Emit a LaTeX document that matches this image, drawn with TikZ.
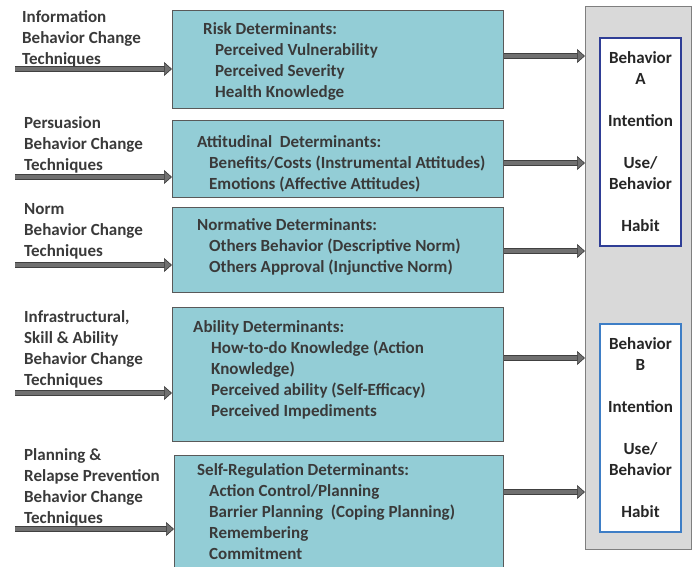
\documentclass[tikz,border=0pt]{standalone}
\usepackage{fontspec}
\setmainfont{Carlito}
\usepackage{tikz}
\usetikzlibrary{arrows.meta}
\usetikzlibrary{positioning}
\usetikzlibrary{calc}
\definecolor{detfill}{RGB}{147,205,214}
\definecolor{detline}{RGB}{89,89,89}
\definecolor{outerfill}{RGB}{217,217,217}
\definecolor{outerline}{RGB}{127,127,127}
\definecolor{blueA}{RGB}{47,62,150}
\definecolor{blueB}{RGB}{62,126,198}
\definecolor{arrowfill}{RGB}{112,112,112}
\definecolor{arrowline}{RGB}{64,64,64}
\definecolor{textgray}{RGB}{58,58,58}
\tikzstyle{determ}=[draw=detline, fill=detfill, line width=1pt,
  anchor=north west, inner sep=0pt]
\tikzstyle{lbl}=[anchor=north west, align=left, inner sep=0pt,
  text=textgray, font=\bfseries\fontsize{17}{21}\selectfont,
  execute at begin node=\strut]
\tikzstyle{outer}=[draw=outerline, fill=outerfill, line width=1pt,
  anchor=north west, inner sep=0pt]
\tikzstyle{behav}=[fill=white, line width=2pt, align=center, inner sep=0pt,
  anchor=north west, text=black!85, font=\bfseries\fontsize{17}{21}\selectfont]
\tikzstyle{fat}=[draw=arrowfill, line width=4.6pt,
  preaction={draw=arrowline, line width=6.4pt, -, shorten >=6pt},
  -{Triangle[length=8pt,width=14pt,fill=arrowfill,color=arrowline,line width=0.7pt]}]
\newcommand{\itm}{\hspace*{12pt}}

\begin{document}
\begin{tikzpicture}[x=1pt,y=-1pt]
    \useasboundingbox (0,0) rectangle (696,567);

    % Draw determinant boxes
    \node (risk) [determ, minimum width=331pt, minimum height=98pt] at (172,10) {};
    \node (att)  [determ, minimum width=331pt, minimum height=77pt] at (172,120) {};
    \node (norm) [determ, minimum width=331pt, minimum height=85pt] at (172,207) {};
    \node (abil) [determ, minimum width=331pt, minimum height=134pt] at (172,307) {};
    \node (self) [determ, minimum width=329pt, minimum height=125pt] at (174,455) {};

    % Draw texts inside the boxes
    \node (trisk) [lbl] at (203,22.3) {Risk Determinants:\\
      \itm Perceived Vulnerability\\ \itm Perceived Severity\\
      \itm Health Knowledge};
    \node (tatt) [lbl] at (197,135.3) {Attitudinal\ \ Determinants:\\
      \itm Benefits/Costs (Instrumental Attitudes)\\
      \itm Emotions (Affective Attitudes)};
    \node (tnorm) [lbl] at (197,218.3) {Normative Determinants:\\
      \itm Others Behavior (Descriptive Norm)\\
      \itm Others Approval (Injunctive Norm)};
    \node (tabil) [lbl] at (193,320.3) {Ability Determinants:\\
      \hspace*{18pt}How-to-do Knowledge (Action\\
      \hspace*{18pt}Knowledge)\\
      \hspace*{18pt}Perceived ability (Self-Efficacy)\\
      \hspace*{18pt}Perceived Impediments};
    \node (tself) [lbl] at (197,463.3) {Self-Regulation Determinants:\\
      \itm Action Control/Planning\\
      \itm Barrier Planning\ \ (Coping Planning)\\
      \itm Remembering\\ \itm Commitment};

    % Draw technique labels
    \node (tech1) [lbl] at (22,10.3) {Information\\ Behavior Change\\ Techniques};
    \node (tech2) [lbl] at (24,116.3) {Persuasion\\ Behavior Change\\ Techniques};
    \node (tech3) [lbl] at (24,203.3) {Norm\\ Behavior Change\\ Techniques};
    \node (tech4) [lbl] at (24,310.3) {Infrastructural,\\ Skill \& Ability\\
      Behavior Change\\ Techniques};
    \node (tech5) [lbl] at (24,448.3) {Planning \&\\ Relapse Prevention\\
      Behavior Change\\ Techniques};

    % Draw behavior column
    \node (outer) [outer, minimum width=106pt, minimum height=543pt] at (585,6) {};
    \node (behA) [behav, draw=blueA, minimum width=81pt, minimum height=208pt]
      at (599,37) {Behavior\\ A\\[21pt] Intention\\[21pt] Use/\\ Behavior\\[21pt] Habit};
    \node (behB) [behav, draw=blueB, minimum width=81pt, minimum height=208pt]
      at (599,323) {Behavior\\ B\\[21pt] Intention\\[21pt] Use/\\ Behavior\\[21pt] Habit};

    % Draw arrows between elements
    \coordinate (l1) at (15,69);
    \coordinate (l2) at (15,177);
    \coordinate (l3) at (15,265);
    \coordinate (l4) at (15,393);
    \coordinate (l5) at (15,529);
    \draw [fat] (l1) -- (l1 -| risk.west);
    \draw [fat] (l2) -- (l2 -| att.west);
    \draw [fat] (l3) -- (l3 -| norm.west);
    \draw [fat] (l4) -- (l4 -| abil.west);
    \draw [fat] (l5) -- (l5 -| self.west);
    \coordinate (r1) at (0,56);
    \coordinate (r2) at (0,163);
    \coordinate (r3) at (0,251);
    \coordinate (r4) at (0,358);
    \coordinate (r5) at (0,492);
    \draw [fat] (risk.east |- r1) -- (outer.west |- r1);
    \draw [fat] (att.east |- r2) -- (outer.west |- r2);
    \draw [fat] (norm.east |- r3) -- (outer.west |- r3);
    \draw [fat] (abil.east |- r4) -- (outer.west |- r4);
    \draw [fat] (self.east |- r5) -- (outer.west |- r5);

\end{tikzpicture}
\end{document}
